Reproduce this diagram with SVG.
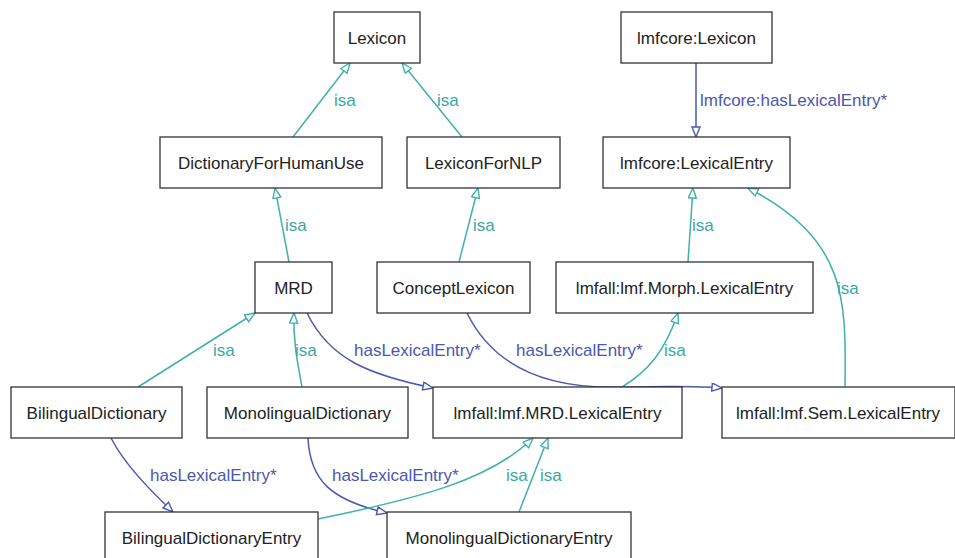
<svg xmlns="http://www.w3.org/2000/svg" width="955" height="558" viewBox="0 0 955 558">
<style>
.box{fill:#fff;stroke:#333;stroke-width:1.3}
.nt{font-family:"Liberation Sans",Arial,sans-serif;font-size:17px;fill:#222;text-anchor:middle}
.isa{fill:none;stroke:#3fb0ae;stroke-width:1.5;marker-end:url(#ah-isa)}
.has{fill:none;stroke:#4a58b0;stroke-width:1.5;marker-end:url(#ah-has)}
.li{font-family:"Liberation Sans",Arial,sans-serif;font-size:17px;fill:#3aa8a6}
.lh{font-family:"Liberation Sans",Arial,sans-serif;font-size:17px;fill:#4a58b0}
</style>
<defs>
<marker id="ah-isa" markerUnits="userSpaceOnUse" markerWidth="14" markerHeight="12" refX="11" refY="4.5" orient="auto">
<path d="M1,0.5 L11,4.5 L1,8.5 Z" fill="#fff" stroke="#3fb0ae" stroke-width="1.4"/>
</marker>
<marker id="ah-has" markerUnits="userSpaceOnUse" markerWidth="14" markerHeight="12" refX="11" refY="4.5" orient="auto">
<path d="M1,0.5 L11,4.5 L1,8.5 Z" fill="#fff" stroke="#4a58b0" stroke-width="1.4"/>
</marker>
</defs>
<rect width="955" height="558" fill="#fff"/>
<g id="connectors">
<path class="isa" d="M293,137 L350,63"/>
<path class="isa" d="M462,137 L402,63"/>
<path class="has" d="M696,63 L696,137"/>
<path class="isa" d="M289,262 L275,188"/>
<path class="isa" d="M459,262 L478,188"/>
<path class="isa" d="M688,262 L693,188"/>
<path class="isa" d="M845,387 C846,300 848,240 748,188"/>
<path class="isa" d="M138,387 L255,313"/>
<path class="isa" d="M302,387 C297,360 293,340 294,313"/>
<path class="has" d="M307,313 C330,360 370,375 433,388"/>
<path class="has" d="M467,313 C495,370 550,387 610,387 C650,387 690,385 722,388"/>
<path class="isa" d="M622,387 C650,370 665,350 678,313"/>
<path class="has" d="M111,438 C125,465 150,490 173,512"/>
<path class="has" d="M308,438 C310,480 330,500 387,513"/>
<path class="isa" d="M318,519 C420,498 490,480 533,438"/>
<path class="isa" d="M519,512 L548,438"/>
<text class="li" x="334" y="106">isa</text>
<text class="li" x="437" y="106">isa</text>
<text class="lh" x="700" y="106">lmfcore:hasLexicalEntry*</text>
<text class="li" x="285" y="231">isa</text>
<text class="li" x="473" y="231">isa</text>
<text class="li" x="692" y="231">isa</text>
<text class="li" x="837" y="294">isa</text>
<text class="li" x="213" y="356">isa</text>
<text class="li" x="295" y="356">isa</text>
<text class="lh" x="354" y="356">hasLexicalEntry*</text>
<text class="lh" x="516" y="356">hasLexicalEntry*</text>
<text class="li" x="664" y="356">isa</text>
<text class="lh" x="150" y="481">hasLexicalEntry*</text>
<text class="lh" x="332" y="481">hasLexicalEntry*</text>
<text class="li" x="506" y="481">isa</text>
<text class="li" x="540" y="481">isa</text>
</g>
<g id="n-lexicon"><rect class="box" x="334" y="12" width="86" height="51"/><text class="nt" x="377" y="43.5">Lexicon</text></g>
<g id="n-dfhu"><rect class="box" x="160" y="137" width="222" height="51"/><text class="nt" x="271" y="168.5">DictionaryForHumanUse</text></g>
<g id="n-lfnlp"><rect class="box" x="407" y="137" width="153" height="51"/><text class="nt" x="483.5" y="168.5">LexiconForNLP</text></g>
<g id="n-lmfcore-lexicon"><rect class="box" x="621" y="12" width="151" height="51"/><text class="nt" x="696.5" y="43.5">lmfcore:Lexicon</text></g>
<g id="n-lmfcore-le"><rect class="box" x="603" y="137" width="187" height="51"/><text class="nt" x="696.5" y="168.5">lmfcore:LexicalEntry</text></g>
<g id="n-mrd"><rect class="box" x="255" y="262" width="77" height="51"/><text class="nt" x="293.5" y="293.5">MRD</text></g>
<g id="n-concept"><rect class="box" x="377" y="262" width="153" height="51"/><text class="nt" x="453.5" y="293.5">ConceptLexicon</text></g>
<g id="n-morph"><rect class="box" x="556" y="262" width="257" height="51"/><text class="nt" x="684.5" y="293.5">lmfall:lmf.Morph.LexicalEntry</text></g>
<g id="n-bd"><rect class="box" x="11" y="387" width="171" height="51"/><text class="nt" x="96.5" y="418.5">BilingualDictionary</text></g>
<g id="n-md"><rect class="box" x="207" y="387" width="201" height="51"/><text class="nt" x="307.5" y="418.5">MonolingualDictionary</text></g>
<g id="n-mrd-le"><rect class="box" x="433" y="387" width="249" height="51"/><text class="nt" x="557.5" y="418.5">lmfall:lmf.MRD.LexicalEntry</text></g>
<g id="n-sem"><rect class="box" x="722" y="387" width="233" height="51"/><text class="nt" x="838" y="418.5">lmfall:lmf.Sem.LexicalEntry</text></g>
<g id="n-bde"><rect class="box" x="105" y="512" width="213" height="51"/><text class="nt" x="211.5" y="543.5">BilingualDictionaryEntry</text></g>
<g id="n-mde"><rect class="box" x="387" y="512" width="244" height="51"/><text class="nt" x="509" y="543.5">MonolingualDictionaryEntry</text></g>
</svg>
